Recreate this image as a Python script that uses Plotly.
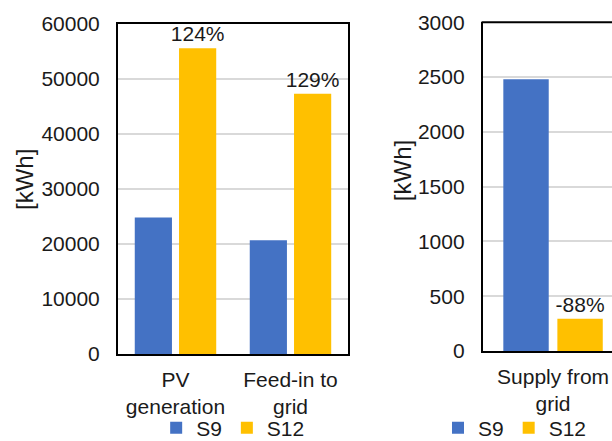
import plotly.graph_objects as go

# Data
left_categories = ["PV<br>generation", "Feed-in to<br>grid"]
left_s9 = [24800, 20700]
left_s12 = [55600, 47300]
left_labels = ["124%", "129%"]

right_categories = ["Supply from<br>grid"]
right_s9 = [2480]
right_s12 = [295]
right_labels = ["-88%"]

series_names = ["S9", "S12"]
colors = ["#4472C4", "#FFC000"]

FONT = "Liberation Sans, Arial, sans-serif"
TXT = "#1a1a1a"
FS = 21

fig = go.Figure()

fig.add_trace(go.Bar(x=left_categories, y=left_s9, name=series_names[0],
                     marker=dict(color=colors[0], line=dict(width=0)),
                     xaxis="x", yaxis="y", legend="legend"))
fig.add_trace(go.Bar(x=left_categories, y=left_s12, name=series_names[1],
                     marker=dict(color=colors[1], line=dict(width=0)),
                     text=left_labels, textposition="outside", cliponaxis=False,
                     constraintext="none",
                     textfont=dict(size=FS, color=TXT, family=FONT),
                     xaxis="x", yaxis="y", legend="legend"))
fig.add_trace(go.Bar(x=right_categories, y=right_s9, name=series_names[0],
                     marker=dict(color=colors[0], line=dict(width=0)),
                     xaxis="x2", yaxis="y2", legend="legend2"))
fig.add_trace(go.Bar(x=right_categories, y=right_s12, name=series_names[1],
                     marker=dict(color=colors[1], line=dict(width=0)),
                     text=right_labels, textposition="outside", cliponaxis=False,
                     constraintext="none",
                     textfont=dict(size=FS, color=TXT, family=FONT),
                     xaxis="x2", yaxis="y2", legend="legend2"))

axis_common = dict(linecolor="black", linewidth=2, ticks="",
                   automargin=False,
                   tickfont=dict(size=FS, color=TXT, family=FONT))

fig.update_layout(
    width=612, height=441,
    margin=dict(l=0, r=0, t=0, b=0, autoexpand=False),
    paper_bgcolor="white", plot_bgcolor="white",
    font=dict(family=FONT, size=FS, color=TXT),
    barmode="group", bargap=0.23, bargroupgap=0.16,
    xaxis=dict(domain=[0.1928, 0.5686], anchor="y", showline=True, mirror=True,
               showgrid=False, ticklabelstandoff=6, **axis_common),
    yaxis=dict(domain=[0.1973, 0.9456], anchor="x", range=[0, 60000],
               dtick=10000, tickformat="d", showline=True, mirror=True,
               showgrid=True, gridcolor="#d9d9d9", gridwidth=1.5,
               zeroline=False, ticklabelstandoff=12, **axis_common),
    xaxis2=dict(domain=[0.789, 1.0], anchor="y2", showline=True, mirror=False,
                range=[-0.5, 0.42], showgrid=False, ticklabelstandoff=6,
                **axis_common),
    yaxis2=dict(domain=[0.2041, 0.9494], anchor="x2", range=[0, 3000],
                dtick=500, tickformat="d", showline=True, mirror=False,
                showgrid=True, gridcolor="#d9d9d9", gridwidth=1.5,
                zeroline=False, ticklabelstandoff=12, **axis_common),
    shapes=[
        # top frame edge of the right panel (panel is cut at the page edge)
        dict(type="line", xref="x2 domain", yref="y2 domain",
             x0=-0.01, x1=1.0, y0=1, y1=1,
             line=dict(color="black", width=2), layer="above"),
    ],
    legend=dict(orientation="h", x=0.381, y=0.0295, xanchor="center",
                yanchor="middle", font=dict(size=FS, color=TXT, family=FONT),
                bgcolor="rgba(0,0,0,0)", itemwidth=30, tracegroupgap=0),
    legend2=dict(orientation="h", x=0.8415, y=0.0295, xanchor="center",
                 yanchor="middle", font=dict(size=FS, color=TXT, family=FONT),
                 bgcolor="rgba(0,0,0,0)", itemwidth=30, tracegroupgap=0),
    annotations=[
        dict(text="[kWh]", xref="paper", yref="paper", x=0.041, y=0.592,
             textangle=-90, showarrow=False, font=dict(size=24, color=TXT, family=FONT),
             xanchor="center", yanchor="middle"),
        dict(text="[kWh]", xref="paper", yref="paper", x=0.657, y=0.612,
             textangle=-90, showarrow=False, font=dict(size=24, color=TXT, family=FONT),
             xanchor="center", yanchor="middle"),
    ],
)

fig.write_html("out.html")
